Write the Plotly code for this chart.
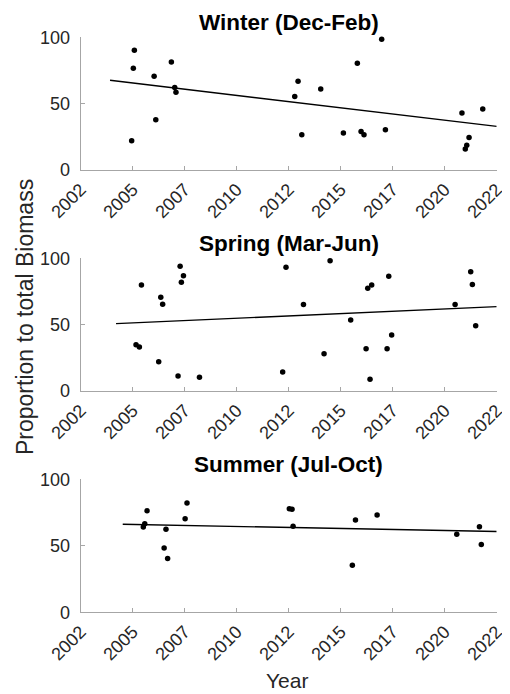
import plotly.graph_objects as go

# ---------------- data (decimal years, % of total biomass) ----------------
winter_x = [2004.95, 2005.03, 2005.08, 2006.03, 2006.11, 2006.86, 2007.02, 2007.08,
            2012.79, 2012.95, 2013.13, 2014.04, 2015.13, 2015.80, 2015.98, 2016.12,
            2016.97, 2017.15, 2020.83, 2020.99, 2021.06, 2021.17, 2021.83]
winter_y = [22.1, 76.6, 90.2, 70.6, 37.9, 81.4, 62.1, 58.5,
            55.3, 66.8, 26.6, 61.1, 27.9, 80.4, 29.1, 26.6,
            98.5, 30.4, 43.0, 15.8, 18.6, 24.4, 46.0]
winter_trend_x = [2003.91, 2022.5]
winter_trend_y = [67.6, 32.9]

spring_x = [2005.16, 2005.32, 2005.42, 2006.25, 2006.35, 2006.44, 2007.18, 2007.28,
            2007.34, 2007.44, 2008.21, 2012.21, 2012.37, 2013.21, 2014.20, 2014.49,
            2015.48, 2016.22, 2016.30, 2016.41, 2016.49, 2017.23, 2017.31, 2017.45,
            2020.50, 2021.25, 2021.33, 2021.49]
spring_y = [34.9, 33.2, 79.9, 22.1, 70.6, 65.3, 11.3, 94.0,
            81.9, 86.9, 10.3, 14.3, 93.2, 65.1, 28.1, 98.2,
            53.5, 31.9, 77.4, 8.8, 79.9, 31.9, 86.4, 42.2,
            65.1, 89.9, 80.2, 49.2]
spring_trend_x = [2004.20, 2022.5]
spring_trend_y = [50.8, 63.6]

summer_x = [2005.51, 2005.58, 2005.69, 2006.51, 2006.60, 2006.68, 2007.52, 2007.61,
            2012.53, 2012.66, 2012.71, 2015.56, 2015.71, 2016.75, 2020.58, 2021.67,
            2021.76]
summer_y = [64.2, 66.6, 76.4, 48.4, 62.4, 40.4, 70.4, 82.2,
            77.9, 77.4, 64.7, 35.3, 69.4, 73.2, 58.6, 64.4,
            50.9]
summer_trend_x = [2004.52, 2022.5]
summer_trend_y = [66.2, 60.7]

panel_titles = ["Winter (Dec-Feb)", "Spring (Mar-Jun)", "Summer (Jul-Oct)"]
tick_vals = [2002.5, 2005, 2007.5, 2010, 2012.5, 2015, 2017.5, 2020, 2022.5]
tick_labels = ["2002", "2005", "2007", "2010", "2012", "2015", "2017", "2020", "2022"]
y_ticks = [0, 50, 100]

# ---------------- figure ----------------
OFF = 8  # default page body margin
W, H = 510 - OFF, 694 - OFF
FONT = "Liberation Sans, Arial, Helvetica, sans-serif"
TXT = "#262626"
AXC = "#a6a6a6"


def px_x(v):
    return (v - OFF) / W


def px_y(v):
    return 1 - (v - OFF) / H


x_dom = [px_x(80.7), px_x(496.7)]
panel_px = [(37.3, 170.0), (258.3, 391.0), (479.3, 612.3)]
title_px = [22, 243, 465]

fig = go.Figure()
series = [(winter_x, winter_y, winter_trend_x, winter_trend_y),
          (spring_x, spring_y, spring_trend_x, spring_trend_y),
          (summer_x, summer_y, summer_trend_x, summer_trend_y)]

layout = dict(
    width=W, height=H,
    margin=dict(l=0, r=0, t=0, b=0),
    paper_bgcolor="white", plot_bgcolor="white",
    showlegend=False,
    font=dict(family=FONT, color=TXT, size=18),
)
annotations = []
for i, ((sx, sy, tx, ty), (top, bot)) in enumerate(zip(series, panel_px)):
    n = i + 1
    xa = "x" if n == 1 else f"x{n}"
    ya = "y" if n == 1 else f"y{n}"
    fig.add_trace(go.Scatter(x=tx, y=ty, mode="lines",
                             line=dict(color="black", width=1.4),
                             xaxis=xa, yaxis=ya, hoverinfo="skip"))
    fig.add_trace(go.Scatter(x=sx, y=sy, mode="markers",
                             marker=dict(color="black", size=5.5),
                             xaxis=xa, yaxis=ya, cliponaxis=False))
    ydom = [px_y(bot), px_y(top)]
    layout["xaxis" if n == 1 else f"xaxis{n}"] = dict(
        domain=x_dom, range=[2002.5, 2022.5], anchor=ya,
        tickmode="array", tickvals=tick_vals, ticktext=tick_labels,
        tickangle=-45, ticks="inside", ticklen=4, tickcolor=AXC,
        ticklabelstandoff=1, ticklabeloverflow="allow",
        showline=True, linecolor=AXC, linewidth=1, mirror=False,
        showgrid=False, zeroline=False, automargin=False,
        tickfont=dict(size=18, color=TXT, family=FONT),
    )
    layout["yaxis" if n == 1 else f"yaxis{n}"] = dict(
        domain=ydom, range=[0, 100], anchor=xa,
        tickmode="array", tickvals=y_ticks,
        ticks="inside", ticklen=4, tickcolor=AXC,
        ticklabelstandoff=6,
        showline=True, linecolor=AXC, linewidth=1, mirror=False,
        showgrid=False, zeroline=False, automargin=False,
        tickfont=dict(size=18, color=TXT, family=FONT),
    )
    annotations.append(dict(
        text=f"<b>{panel_titles[i]}</b>", xref="paper", yref="paper",
        x=(x_dom[0] + x_dom[1]) / 2, y=px_y(title_px[i]),
        xanchor="center", yanchor="middle", showarrow=False,
        font=dict(size=22.5, color="black", family=FONT),
    ))

annotations.append(dict(
    text="Proportion to total Biomass", xref="paper", yref="paper",
    x=px_x(25), y=px_y(317), xanchor="center", yanchor="middle",
    textangle=-90, showarrow=False, font=dict(size=23, color=TXT, family=FONT),
))
annotations.append(dict(
    text="Year", xref="paper", yref="paper",
    x=px_x(287), y=px_y(680), xanchor="center", yanchor="middle",
    showarrow=False, font=dict(size=21, color=TXT, family=FONT),
))
layout["annotations"] = annotations
fig.update_layout(**layout)
fig.write_html("out.html")
